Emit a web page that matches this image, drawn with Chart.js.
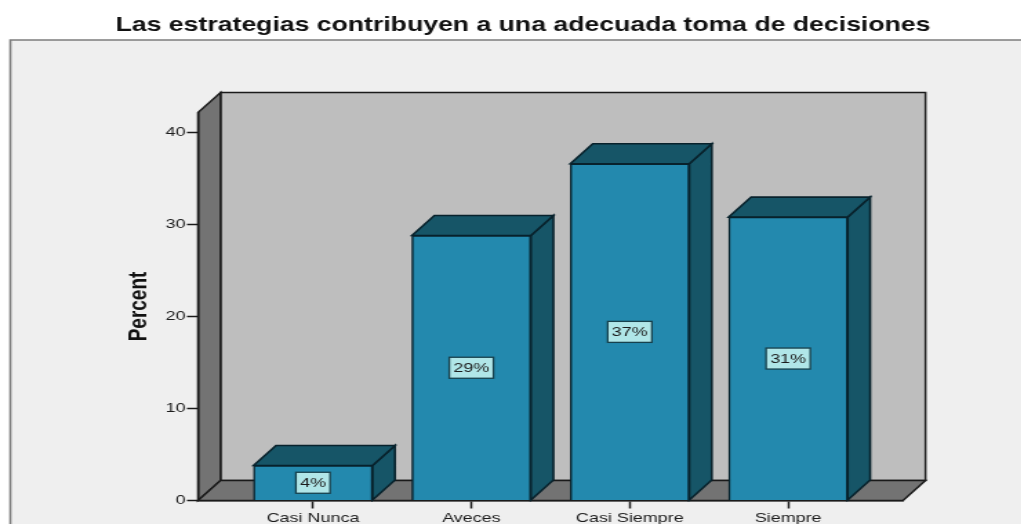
<!DOCTYPE html>
<html>
<head>
<meta charset="utf-8">
<style>
html,body{margin:0;padding:0;background:#fff;overflow:hidden;width:1021px;height:524px}
#wrap{position:absolute;left:0;top:0;width:758px;height:524px;transform-origin:0 0;transform:scaleX(1.38);filter:blur(0.3px)}
canvas{display:block}
</style>
<script src="https://cdn.jsdelivr.net/npm/chart.js@4/dist/chart.umd.min.js"></script>
</head>
<body>
<div id="wrap"><canvas id="c" width="758" height="524"></canvas></div>
<script>
const chartTitle = "Las estrategias contribuyen a una adecuada toma de decisiones";
const yTitle = "Percent";
const categories = ["Casi Nunca", "Aveces", "Casi Siempre", "Siempre"];
const values = [3.8, 28.8, 36.6, 30.8];
const valueLabels = ["4%", "29%", "37%", "31%"];

const S = 1.38;            // the picture is stretched horizontally
const DX = 22.5 / S, DY = -20;
const FONT = "'Liberation Sans', Arial, sans-serif";
const C = {panel:"#efefef", frame:"#7d7d7d", back:"#bebebe", wall:"#737373", line:"#1a1a1a",
           bar:"#2389ae", barDark:"#165567", barLine:"#08222c", box:"#b0e6e8", boxLine:"#17414d", text:"#1c1c1c"};

function poly(ctx, pts, fill, stroke, lw){
  ctx.beginPath();
  pts.forEach((p,i)=> i ? ctx.lineTo(p[0],p[1]) : ctx.moveTo(p[0],p[1]));
  ctx.closePath();
  ctx.fillStyle = fill; ctx.fill();
  ctx.strokeStyle = stroke; ctx.lineWidth = lw || 1; ctx.lineJoin = "miter"; ctx.stroke();
}

const box3d = {
  id:"box3d",
  beforeDraw(chart){
    const {ctx, chartArea:a, width, height} = chart;
    ctx.save();
    ctx.fillStyle = C.panel;
    ctx.fillRect(7.5, 40, width, height);
    ctx.strokeStyle = C.frame; ctx.lineWidth = 1.6;
    ctx.beginPath(); ctx.moveTo(7.5, height); ctx.lineTo(7.5, 40); ctx.lineTo(width, 40); ctx.stroke();
    const l=a.left, r=a.right, t=a.top, b=a.bottom;
    poly(ctx, [[l+DX,t+DY],[r+DX,t+DY],[r+DX,b+DY],[l+DX,b+DY]], C.back, C.line, 1.5);
    poly(ctx, [[l,b],[l,t],[l+DX,t+DY],[l+DX,b+DY]], C.wall, C.line, 1.5);
    poly(ctx, [[l,b],[l+DX,b+DY],[r+DX,b+DY],[r,b]], C.wall, C.line, 1.5);
    ctx.restore();
  },
  beforeDatasetsDraw(chart){
    const ctx = chart.ctx;
    ctx.save();
    chart.getDatasetMeta(0).data.forEach(el=>{
      const p = el.getProps(["x","y","base","width"], true);
      const l=p.x-p.width/2, r=p.x+p.width/2, t=p.y, b=p.base;
      poly(ctx, [[r,b],[r,t],[r+DX,t+DY],[r+DX,b+DY]], C.barDark, C.barLine, 1.6);
      poly(ctx, [[l,t],[l+DX,t+DY],[r+DX,t+DY],[r,t]], C.barDark, C.barLine, 1.6);
    });
    ctx.restore();
  },
  afterDatasetsDraw(chart){
    const ctx = chart.ctx;
    ctx.save();
    ctx.font = "13px " + FONT;
    ctx.textAlign = "center"; ctx.textBaseline = "middle";
    chart.getDatasetMeta(0).data.forEach((el,i)=>{
      const p = el.getProps(["x","y","base"], true);
      const cy = (p.y+p.base)/2;
      const w = ctx.measureText(valueLabels[i]).width + 6, h = 21;
      ctx.fillStyle = C.box; ctx.fillRect(p.x-w/2, cy-h/2, w, h);
      ctx.strokeStyle = C.boxLine; ctx.lineWidth = 1.3; ctx.strokeRect(p.x-w/2, cy-h/2, w, h);
      ctx.fillStyle = C.text; ctx.fillText(valueLabels[i], p.x, cy+0.5);
    });
    ctx.restore();
  }
};

new Chart(document.getElementById("c"), {
  type:"bar",
  data:{datasets:[{
    data: categories.map((_,i)=>({x:i, y:values[i]})),
    backgroundColor:C.bar, borderColor:C.barLine, borderWidth:1.5, barThickness:119/S
  }]},
  plugins:[box3d],
  options:{
    responsive:false, animation:false, events:[],
    layout:{padding:0},
    plugins:{
      legend:{display:false}, tooltip:{enabled:false},
      title:{display:true, text:chartTitle, color:"#111111",
        font:{family:FONT, size:19.3, weight:"bold"},
        padding:{top:14, bottom:112.5-14-23.16}}
    },
    scales:{
      x:{type:"linear", offset:false, min:-0.726, max:3.725,
        afterBuildTicks(s){ s.ticks = categories.map((_,i)=>({value:i})); },
        afterFit(s){ s.height = 23.5; },
        ticks:{callback:(v)=>categories[v], autoSkip:false, maxRotation:0, minRotation:0, padding:2.5,
               color:C.text, font:{family:FONT, size:13}},
        grid:{offset:false, drawOnChartArea:false, drawTicks:true, tickLength:8, tickColor:C.line, tickWidth:1.5},
        border:{display:true, color:C.line, width:1.5}
      },
      y:{type:"linear", min:0, max:42.17,
        afterFit(s){ s.width = 198/S; },
        ticks:{stepSize:10, includeBounds:false, padding:1, color:C.text, font:{family:FONT, size:13}},
        grid:{drawOnChartArea:false, drawTicks:true, tickLength:8, tickColor:C.line, tickWidth:1.5},
        border:{display:true, color:C.line, width:1.5},
        title:{display:true, text:yTitle, color:"#111111", font:{family:FONT, size:19, weight:"bold"}, padding:{top:89, bottom:0}}
      },
      rightGap:{type:"linear", position:"right", display:true,
        afterFit(s){ s.width = 758-903/S; },
        ticks:{display:false}, grid:{display:false, drawTicks:false}, border:{display:false}
      }
    }
  }
});
</script>
</body>
</html>
